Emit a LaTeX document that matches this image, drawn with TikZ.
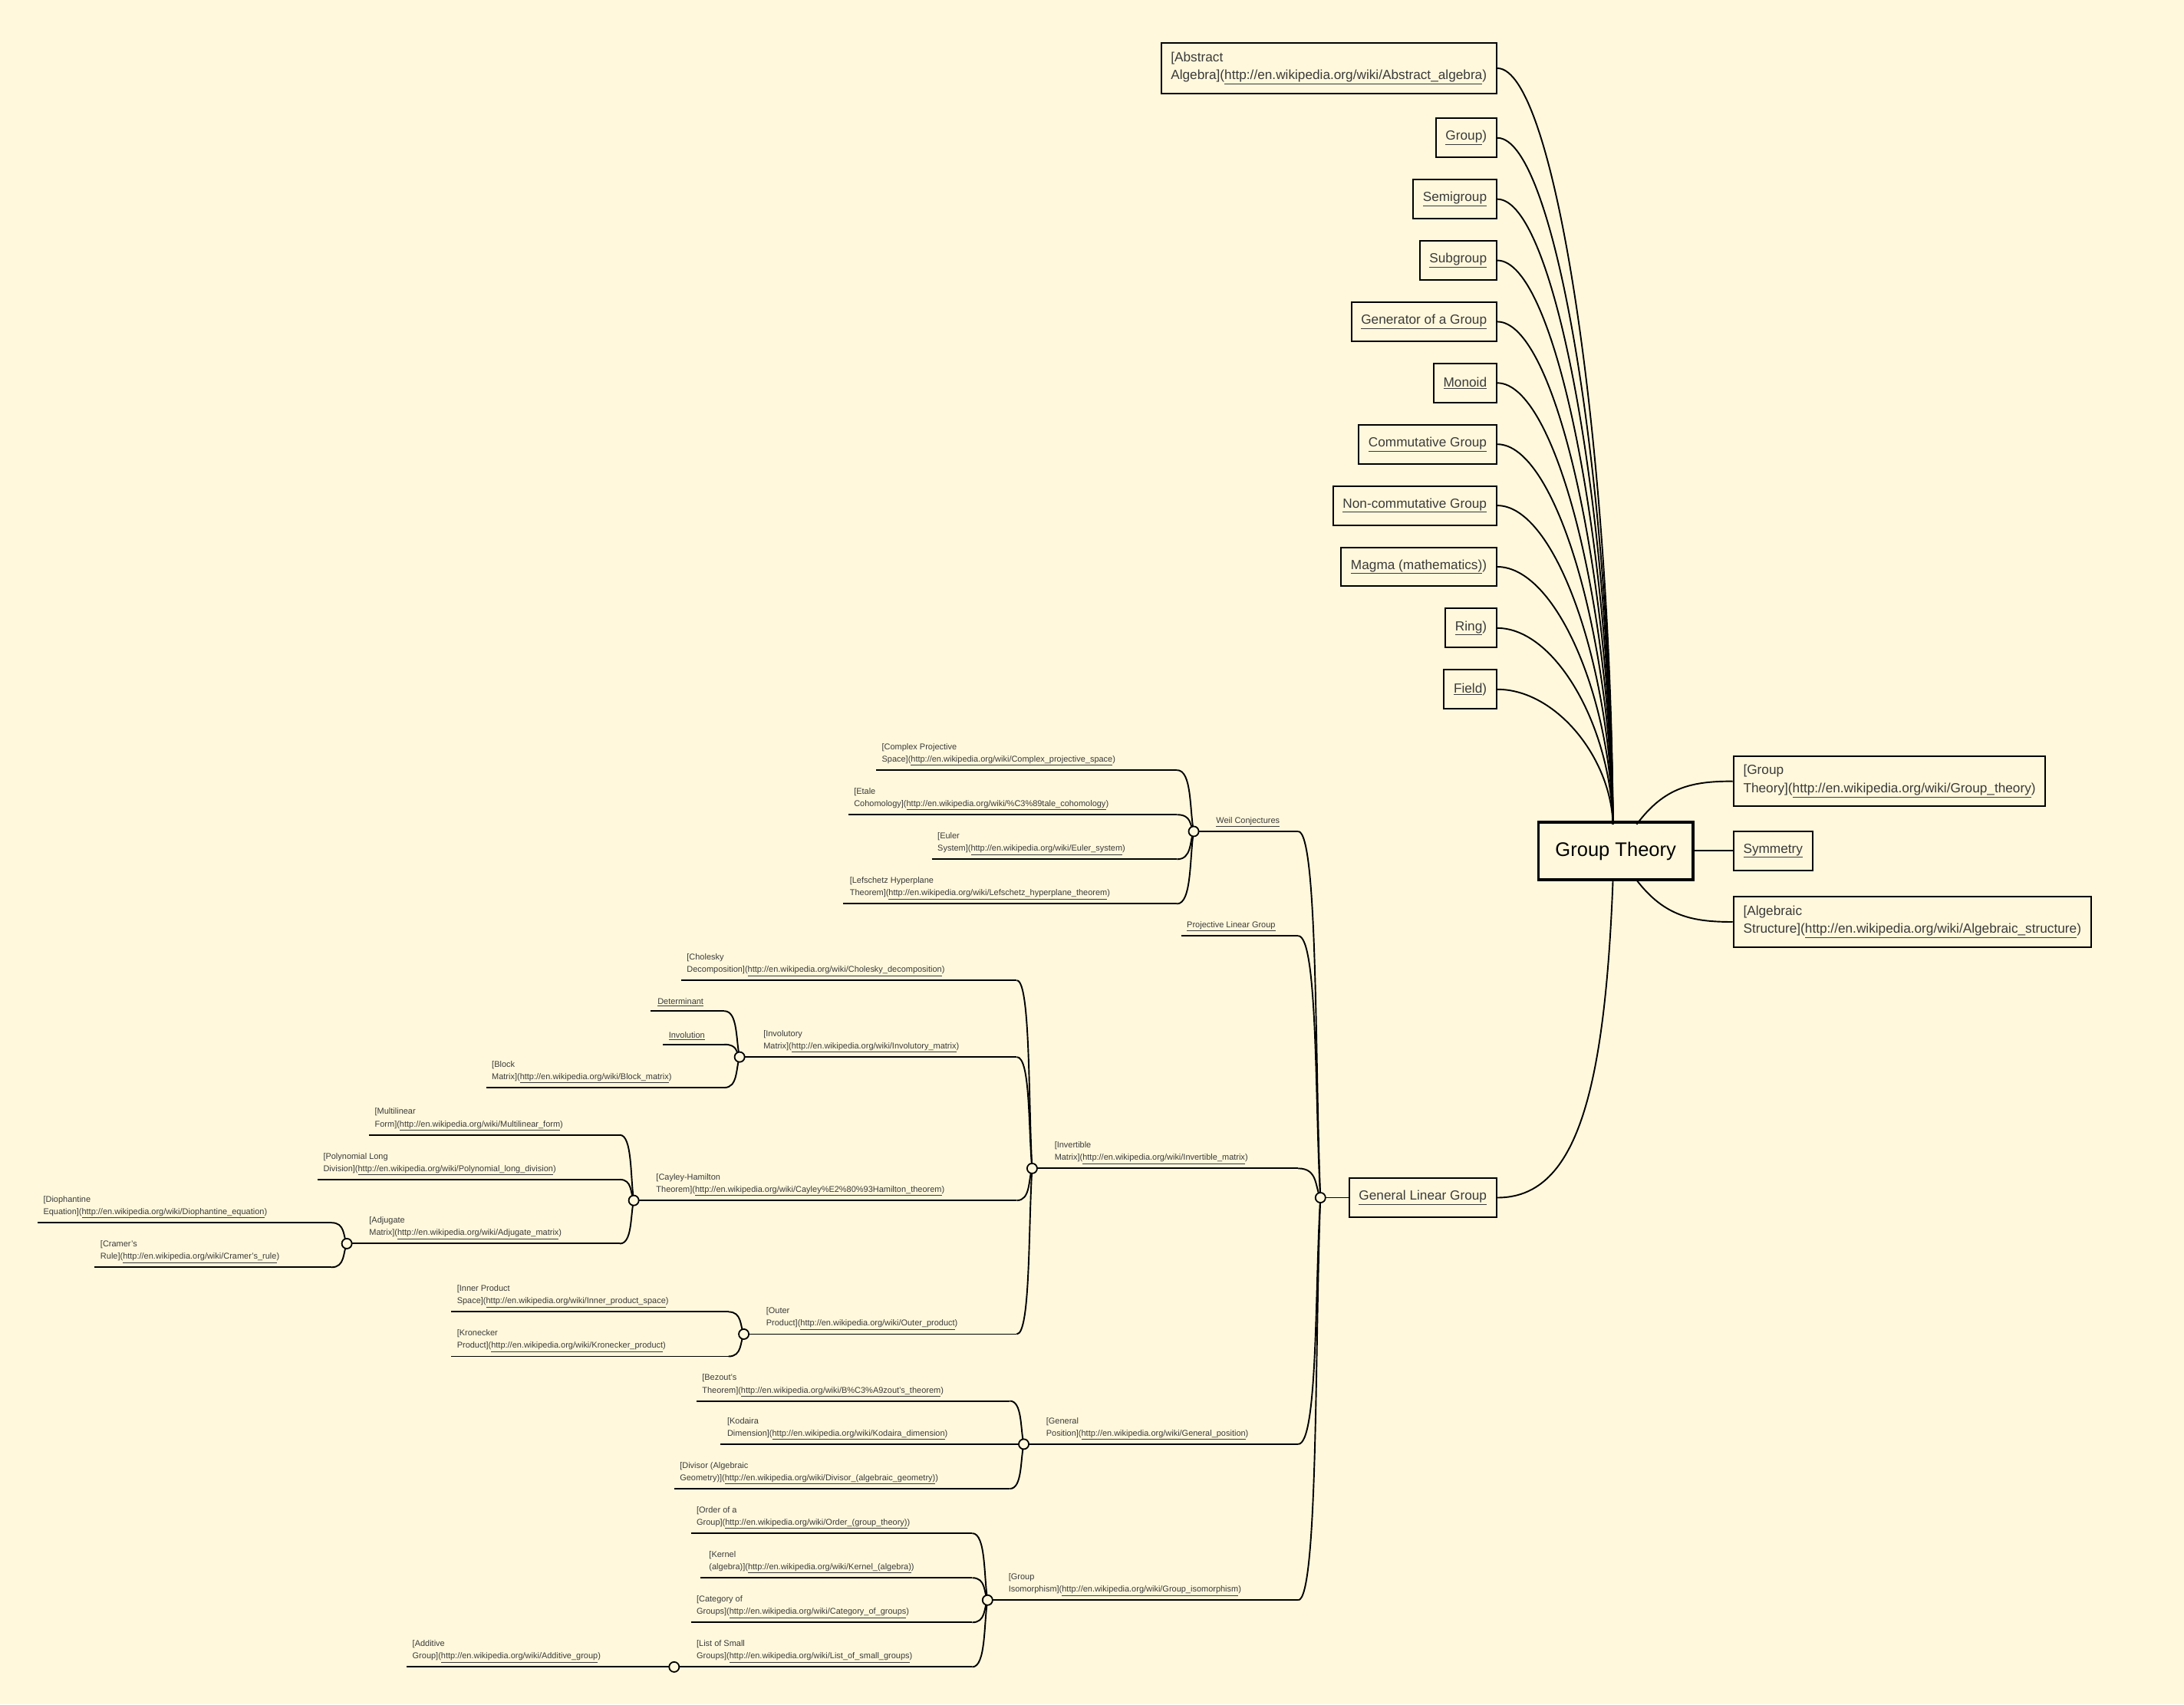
\documentclass[tikz,border=0pt]{standalone}
\usepackage{fontspec}
\setmainfont{Liberation Sans}
\usetikzlibrary{calc}
\definecolor{bg}{HTML}{FFF8DC}
\definecolor{tg}{HTML}{3A3A3A}
\newcommand\uln[1]{\underline{#1}}
\newcommand\wk[1]{\uln{http://en.wikipedia.org/wiki/#1}}
\newcommand\leaf[6]{%
  \draw[ln] (#2,#4) -- (#3,#4) coordinate (#1);
  \node[small,anchor=south west] (#1t) at (#5,#4-3) {#6};}
\newcommand\conn[2]{\draw[ln] let \p1=(#1),\p2=(#2) in (\p1) .. controls ({\x1+0.9*(\x2-\x1)},\y1) and ({\x1+0.75*(\x2-\x1)},{\y2+0.35*(\y1-\y2)}) .. (\p2);}
\newcommand\tconn[2]{\draw[ln] let \p1=(#1.east),\p2=(#2) in (\p1) .. controls ({\x1+0.5*(\x2-\x1)},\y1) and ({\x2-2pt},{\y2+0.5*(\y1-\y2)}) .. (\p2);}
\begin{document}
\begin{tikzpicture}[x=0.05cm,y=-0.05cm,
  ln/.style={line width=1.5pt,black},
  small/.style={font=\fontsize{8.6}{12.8}\selectfont,text=tg,align=left,inner sep=0pt},
  box/.style={draw,line width=1.6pt,font=\fontsize{13.5}{18.5}\selectfont,text=tg,align=left,inner xsep=10pt,inner ysep=9pt,minimum height=1.4cm},
  hub/.style={circle,draw,line width=1.4pt,fill=bg,minimum size=0.36cm,inner sep=0pt}]
\fill[bg] (0,0) rectangle (1568,1224);
\useasboundingbox (0,0) rectangle (1568,1224);
% root
\node[draw,line width=3pt,font=\fontsize{20}{24}\selectfont,minimum height=2.05cm,minimum width=5.55cm] (root) at (1160,611) {Group Theory};
\coordinate (top) at (1158,592);
\coordinate (bot) at (1158,632);
% top boxes
\node[box,anchor=east] (abs) at (1075,49) {[Abstract\\Algebra](\wk{Abstract\_algebra})};
\node[box,anchor=east] (grp) at (1075,99) {\uln{Group})};
\node[box,anchor=east] (semi) at (1075,143) {\uln{Semigroup}};
\node[box,anchor=east] (sub) at (1075,187) {\uln{Subgroup}};
\node[box,anchor=east] (gen) at (1075,231) {\uln{Generator of a Group}};
\node[box,anchor=east] (mon) at (1075,275) {\uln{Monoid}};
\node[box,anchor=east] (com) at (1075,319) {\uln{Commutative Group}};
\node[box,anchor=east] (ncom) at (1075,363) {\uln{Non-commutative Group}};
\node[box,anchor=east] (mag) at (1075,407) {\uln{Magma (mathematics)})};
\node[box,anchor=east] (ring) at (1075,451) {\uln{Ring})};
\node[box,anchor=east] (field) at (1075,495) {\uln{Field})};
\foreach \nm in {abs,grp,semi,sub,gen,mon,com,ncom,mag,ring,field} {\tconn{\nm}{top}}
% right boxes
\node[box,anchor=west] (gt) at (1244,561) {[Group\\Theory](\wk{Group\_theory})};
\node[box,anchor=west] (sym) at (1244,611) {\uln{Symmetry}};
\node[box,anchor=west] (as) at (1244,662) {[Algebraic\\Structure](\wk{Algebraic\_structure})};
\coordinate (rt) at (1175,592);
\coordinate (rb) at (1175,632);
\draw[ln] (rt) .. controls (1195,565) and (1215,561) .. (gt.west);
\draw[ln] (root.east) -- (sym.west);
\draw[ln] (rb) .. controls (1195,658) and (1215,662) .. (as.west);
% general linear group
\node[box,anchor=east] (glg) at (1075,860) {\uln{General Linear Group}};
\draw[ln] (bot) .. controls (1152,790) and (1130,860) .. (glg.east);
\coordinate (G) at (948,860);
\draw[ln] (G) -- (glg.west);
% hub coordinates
\coordinate (W) at (857,597);
\coordinate (I) at (741,839);
\coordinate (P) at (735,1037);
\coordinate (S) at (709,1149);
\coordinate (V) at (531,759);
\coordinate (C) at (455,862);
\coordinate (O) at (534,958);
\coordinate (A) at (249,893);
\coordinate (L) at (484,1197);
% level 1
\leaf{weil}{857}{932}{597}{873}{\uln{Weil Conjectures}}
\leaf{proj}{848}{932}{672}{852}{\uln{Projective Linear Group}}
\leaf{inv}{741}{932}{839}{757}{[Invertible\\Matrix](\wk{Invertible\_matrix})}
\leaf{gpos}{735}{932}{1037}{751}{[General\\Position](\wk{General\_position})}
\leaf{giso}{709}{932}{1149}{724}{[Group\\Isomorphism](\wk{Group\_isomorphism})}
\foreach \nm in {weil,proj,inv,gpos,giso} {\conn{\nm}{G}}
% Weil
\leaf{cps}{629}{845}{553}{633}{[Complex Projective\\Space](\wk{Complex\_projective\_space})}
\leaf{etale}{609}{845}{585}{613}{[Etale\\Cohomology](\wk{\%C3\%89tale\_cohomology})}
\leaf{euler}{669}{845}{617}{673}{[Euler\\System](\wk{Euler\_system})}
\leaf{lef}{605}{845}{649}{610}{[Lefschetz Hyperplane\\Theorem](\wk{Lefschetz\_hyperplane\_theorem})}
\foreach \nm in {cps,etale,euler,lef} {\conn{\nm}{W}}
% Invertible
\leaf{chol}{489}{730}{704}{493}{[Cholesky\\Decomposition](\wk{Cholesky\_decomposition})}
\leaf{invol}{531}{730}{759}{548}{[Involutory\\Matrix](\wk{Involutory\_matrix})}
\leaf{cay}{455}{730}{862}{471}{[Cayley-Hamilton\\Theorem](\wk{Cayley\%E2\%80\%93Hamilton\_theorem})}
\leaf{outer}{534}{730}{958}{550}{[Outer\\Product](\wk{Outer\_product})}
\foreach \nm in {chol,invol,cay,outer} {\conn{\nm}{I}}
% Involutory
\leaf{det}{467}{520}{726}{472}{\uln{Determinant}}
\leaf{involution}{476}{520}{750}{480}{\uln{Involution}}
\leaf{block}{349}{520}{781}{353}{[Block\\Matrix](\wk{Block\_matrix})}
\foreach \nm in {det,involution,block} {\conn{\nm}{V}}
% Cayley
\leaf{multi}{265}{445}{815}{269}{[Multilinear\\Form](\wk{Multilinear\_form})}
\leaf{poly}{228}{445}{847}{232}{[Polynomial Long\\Division](\wk{Polynomial\_long\_division})}
\leaf{adj}{249}{445}{893}{265}{[Adjugate\\Matrix](\wk{Adjugate\_matrix})}
\foreach \nm in {multi,poly,adj} {\conn{\nm}{C}}
% Adjugate
\leaf{dioph}{27}{238}{878}{31}{[Diophantine\\Equation](\wk{Diophantine\_equation})}
\leaf{cramer}{68}{238}{910}{72}{[Cramer's\\Rule](\wk{Cramer's\_rule})}
\foreach \nm in {dioph,cramer} {\conn{\nm}{A}}
% Outer
\leaf{inner}{324}{523}{942}{328}{[Inner Product\\Space](\wk{Inner\_product\_space})}
\leaf{kron}{324}{523}{974}{328}{[Kronecker\\Product](\wk{Kronecker\_product})}
\foreach \nm in {inner,kron} {\conn{\nm}{O}}
% General position
\leaf{bez}{500}{725}{1006}{504}{[Bezout's\\Theorem](\wk{B\%C3\%A9zout's\_theorem})}
\leaf{kod}{517}{725}{1037}{522}{[Kodaira\\Dimension](\wk{Kodaira\_dimension})}
\leaf{div}{484}{725}{1069}{488}{[Divisor (Algebraic\\Geometry)](\wk{Divisor\_(algebraic\_geometry)})}
\foreach \nm in {bez,kod,div} {\conn{\nm}{P}}
% Group isomorphism
\leaf{order}{496}{698}{1101}{500}{[Order of a\\Group](\wk{Order\_(group\_theory)})}
\leaf{kernel}{503}{698}{1133}{509}{[Kernel\\(algebra)](\wk{Kernel\_(algebra)})}
\leaf{cat}{496}{698}{1165}{500}{[Category of\\Groups](\wk{Category\_of\_groups})}
\leaf{list}{484}{698}{1197}{500}{[List of Small\\Groups](\wk{List\_of\_small\_groups})}
\foreach \nm in {order,kernel,cat,list} {\conn{\nm}{S}}
% Additive
\coordinate (addl) at (292,1197);
\draw[ln] (addl) -- (L);
\node[small,anchor=south west] (addt) at (296,1194) {[Additive\\Group](\wk{Additive\_group})};
% hubs on top
\foreach \h in {G,W,I,P,S,V,C,O,A,L} {\node[hub] at (\h) {};}
\end{tikzpicture}
\end{document}
